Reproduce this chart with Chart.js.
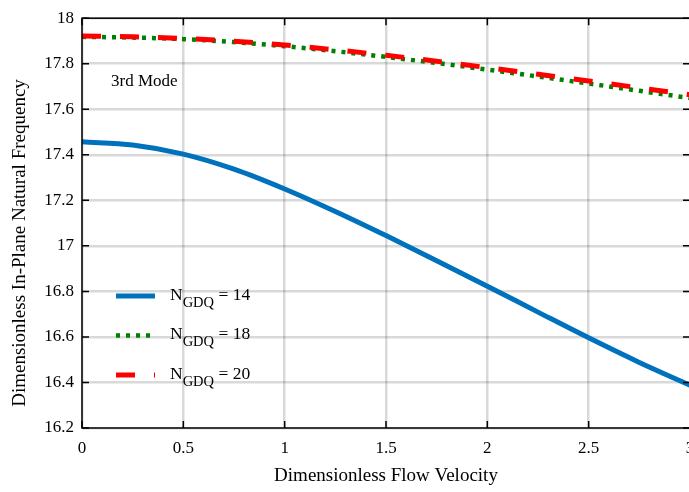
<!DOCTYPE html>
<html>
<head>
<meta charset="utf-8">
<script src="https://cdn.jsdelivr.net/npm/chart.js@4.4.1/dist/chart.umd.min.js"></script>
<style>
  html, body { margin: 0; padding: 0; background: #fff; overflow: hidden; }
  #wrap { width: 720px; height: 492px; }
</style>
</head>
<body>
<div id="wrap"><canvas id="chart" width="720" height="492"></canvas></div>
<script>
// --- Data ---
const velocity = [0, 0.25, 0.5, 0.75, 1, 1.25, 1.5, 1.75, 2, 2.25, 2.5, 2.75, 3];
const freqN14 = [17.457, 17.443, 17.403, 17.337, 17.250, 17.151, 17.045, 16.935, 16.823, 16.709, 16.596, 16.488, 16.388];
const freqN18 = [17.918, 17.915, 17.908, 17.895, 17.877, 17.855, 17.830, 17.803, 17.774, 17.744, 17.713, 17.681, 17.649];
const freqN20 = [17.922, 17.918, 17.911, 17.899, 17.882, 17.861, 17.837, 17.811, 17.783, 17.754, 17.724, 17.694, 17.664];
const gdqCounts = [14, 18, 20];

const xTickVals = [0, 0.5, 1, 1.5, 2, 2.5, 3];
const yTickVals = [16.2, 16.4, 16.6, 16.8, 17, 17.2, 17.4, 17.6, 17.8, 18];

const yTitle = "Dimensionless In-Plane Natural Frequency";
const SERIF = "'Liberation Serif', 'DejaVu Serif', serif";

const toPoints = ys => ys.map((y, i) => ({ x: velocity[i], y }));

// --- Box frame with inward ticks (like a MATLAB "box on") ---
const framePlugin = {
  id: "frame",
  afterDraw(chart) {
    const { ctx, chartArea: a, scales } = chart;
    ctx.save();
    ctx.strokeStyle = "#000";
    ctx.lineWidth = 1.5;
    ctx.strokeRect(a.left, a.top, a.right - a.left, a.bottom - a.top);
    const len = 7;
    ctx.beginPath();
    xTickVals.forEach(v => {
      const x = scales.x.getPixelForValue(v);
      ctx.moveTo(x, a.bottom); ctx.lineTo(x, a.bottom - len);
      ctx.moveTo(x, a.top); ctx.lineTo(x, a.top + len);
    });
    yTickVals.forEach(v => {
      const y = scales.y.getPixelForValue(v);
      ctx.moveTo(a.left, y); ctx.lineTo(a.left + len, y);
      ctx.moveTo(a.right, y); ctx.lineTo(a.right - len, y);
    });
    ctx.stroke();

    // y title, centred on the figure height rather than the axis
    ctx.translate(20.5, 243);
    ctx.rotate(-Math.PI / 2);
    ctx.fillStyle = "#000";
    ctx.font = "19px " + SERIF;
    ctx.textAlign = "center";
    ctx.textBaseline = "middle";
    ctx.fillText(yTitle, 0, 0);
    ctx.restore();
  }
};

// --- In-plot legend with subscript + "3rd Mode" note ---
const legendPlugin = {
  id: "subLegend",
  afterDatasetsDraw(chart) {
    const { ctx } = chart;
    ctx.save();
    // datasets are [N14, N18, N20]
    gdqCounts.forEach((n, i) => {
      const ds = chart.data.datasets[i];
      const y = 296 + i * 39.5;
      ctx.beginPath();
      ctx.strokeStyle = ds.borderColor;
      ctx.lineWidth = ds.borderWidth;
      ctx.lineCap = "butt";
      ctx.setLineDash(ds.borderDash || []);
      ctx.moveTo(116, y);
      ctx.lineTo(155, y);
      ctx.stroke();
      ctx.setLineDash([]);

      ctx.fillStyle = "#000";
      ctx.textBaseline = "alphabetic";
      ctx.textAlign = "left";
      let x = 170;
      ctx.font = "17.5px " + SERIF;
      ctx.fillText("N", x, y + 3.5);
      x += ctx.measureText("N").width;
      ctx.font = "14.5px " + SERIF;
      ctx.fillText("GDQ", x, y + 10.5);
      x += ctx.measureText("GDQ").width;
      ctx.font = "17.5px " + SERIF;
      ctx.fillText(" = " + n, x, y + 3.5);
    });
    ctx.font = "17px " + SERIF;
    ctx.fillText("3rd Mode", 111, 86);
    ctx.restore();
  }
};

new Chart(document.getElementById("chart"), {
  type: "line",
  data: {
    datasets: [
      {
        label: "N_GDQ = 14",
        data: toPoints(freqN14),
        borderColor: "#0072BD",
        borderWidth: 5,
        order: 3
      },
      {
        label: "N_GDQ = 18",
        data: toPoints(freqN18),
        borderColor: "#008000",
        borderWidth: 4.5,
        borderDash: [4, 6],
        order: 2
      },
      {
        label: "N_GDQ = 20",
        data: toPoints(freqN20),
        borderColor: "#FF0000",
        borderWidth: 5,
        borderDash: [19, 19],
        order: 1
      }
    ]
  },
  options: {
    responsive: false,
    animation: false,
    devicePixelRatio: 1,
    layout: { padding: { top: 11, right: 30, left: 0, bottom: 0 } },
    elements: {
      point: { radius: 0 },
      line: { cubicInterpolationMode: "monotone", borderCapStyle: "butt", fill: false }
    },
    plugins: {
      legend: { display: false },
      tooltip: { enabled: false }
    },
    scales: {
      x: {
        type: "linear",
        min: 0,
        max: 3,
        afterBuildTicks: s => { s.ticks = xTickVals.map(v => ({ value: v })); },
        afterFit: s => { s.height = 64; },
        ticks: {
          padding: 10,
          maxRotation: 0,
          color: "#000",
          font: { family: SERIF, size: 17 },
          callback: v => String(v)
        },
        grid: { color: "rgba(0,0,0,0.15)", lineWidth: 2.5, drawTicks: false },
        border: { display: false },
        title: {
          display: true,
          text: "Dimensionless Flow Velocity",
          color: "#000",
          font: { family: SERIF, size: 19 },
          padding: { top: 0, bottom: 5 }
        }
      },
      y: {
        type: "linear",
        min: 16.2,
        max: 18,
        afterBuildTicks: s => { s.ticks = yTickVals.map(v => ({ value: v })); },
        afterFit: s => { s.width = 82; },
        ticks: {
          padding: 8,
          color: "#000",
          font: { family: SERIF, size: 17 },
          callback: v => String(+v.toFixed(1))
        },
        grid: { color: "rgba(0,0,0,0.15)", lineWidth: 2.5, drawTicks: false },
        border: { display: false }
      }
    }
  },
  plugins: [framePlugin, legendPlugin]
});
</script>
</body>
</html>
